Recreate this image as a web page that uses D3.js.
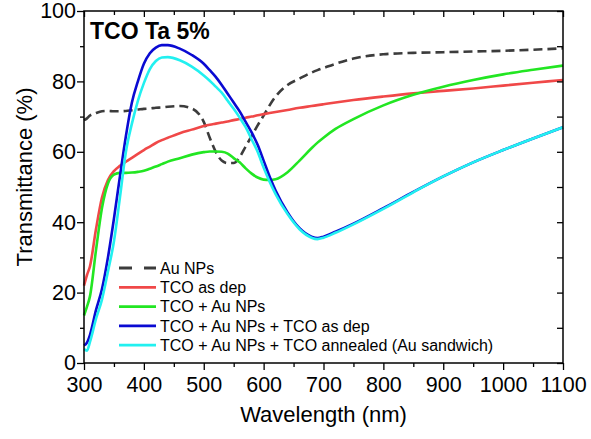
<!DOCTYPE html>
<html><head><meta charset="utf-8">
<script src="https://cdn.jsdelivr.net/npm/d3@7"></script>
<style>body{margin:0;background:#fff}svg{display:block;font-family:Arial,"Liberation Sans",sans-serif}</style>
</head><body><svg id="c" width="591" height="439"></svg>
<script>
const wavelengths = [300,305,310,320,330,340,350,360,370,380,390,400,410,420,430,440,460,480,500,510,520,530,540,550,560,570,580,590,600,610,620,640,660,680,690,700,720,750,800,850,900,950,1000,1050,1100];
const auNPs      = [69,69.5,70.3,71,71.5,71.6,71.5,71.5,71.6,71.8,72,72.2,72.3,72.5,72.6,72.8,73,72.3,68.5,64,60,57.5,56.8,56.8,58.5,61.5,64.5,67.5,70.3,73.2,75.7,79,80.8,82.5,83.2,83.8,85,86.5,87.7,88.1,88.3,88.5,88.7,89,89.4];
const tcoAsDep   = [22,25,27.5,38,47,52,54.5,56,57.2,58.3,59.4,60.5,61.5,62.5,63.3,64,65.3,66.3,67.3,67.7,68,68.3,68.6,69,69.3,69.7,70,70.4,70.7,71,71.3,71.9,72.5,73,73.25,73.5,74,74.7,75.7,76.6,77.3,78,78.8,79.6,80.4];
const tcoAuNPs   = [13.5,16,19,32,44,51,53.5,54,54,54.1,54.3,54.6,55.2,55.8,56.5,57.2,58.2,59.2,59.9,60.1,60.1,60,59.5,58.2,57,55.3,53.8,52.7,52.1,52,52.2,54.2,57.5,61,62.6,64,66.5,69.3,73.2,76.2,78.5,80.4,82,83.3,84.5];
const sandwichAsDep = [5,5.8,8,15,21,30,41,53,64.5,74,80,85,88,89.6,90.3,90.3,89.3,87.5,85,83.2,81.3,79,76.5,74,71.5,68.5,65.5,62,57.5,53,49,42.8,38.3,35.9,35.5,35.9,37.3,39.6,44,48.6,53,57,60.5,63.8,67];
const sandwichAnnealed = [4,3.5,6,12.5,18,26,34.5,47,60,68,74.5,79.5,83.5,85.8,86.8,86.9,86,84.2,81.7,80.2,78.5,76.8,74.5,72.2,69.7,67,63.5,60,55.5,51.5,48,42.3,38,35.6,35.2,35.6,37,39.4,43.8,48.5,53,57,60.5,63.8,67];
const seriesNames = ["Au NPs","TCO as dep","TCO + Au NPs","TCO + Au NPs + TCO as dep","TCO + Au NPs + TCO annealed (Au sandwich)"];
const seriesColors = ["#3c3c3c","#f04848","#22e622","#0a0ad2","#22f0f0"];
const seriesValues = [auNPs,tcoAsDep,tcoAuNPs,sandwichAsDep,sandwichAnnealed];
const xTicks = [300,400,500,600,700,800,900,1000,1100];
const yTicks = [0,20,40,60,80,100];
const title = "TCO Ta 5%";

const svg = d3.select("#c");
const L=84, R=563, T=11, B=363;
const x = d3.scaleLinear().domain([300,1100]).range([L,R]);
const y = d3.scaleLinear().domain([0,100]).range([B,T]);

const line = d3.line().curve(d3.curveMonotoneX);
const g = svg.append("g");
seriesValues.forEach((vals,i)=>{
  g.append("path")
    .attr("d", line(wavelengths.map((w,j)=>[x(w),y(vals[j])])))
    .attr("fill","none").attr("stroke",seriesColors[i])
    .attr("stroke-width", 2.6).attr("stroke-linejoin","round")
    .attr("stroke-dasharray", i===0 ? "9,5" : null);
});

// axes
const fs = 21.5;
svg.append("g").attr("transform",`translate(0,${B})`)
  .call(d3.axisBottom(x).tickValues(xTicks).tickSize(7).tickPadding(7).tickFormat(d3.format("d")));
svg.append("g").attr("transform",`translate(0,${B})`)
  .call(d3.axisBottom(x).tickValues(d3.range(350,1100,100)).tickSize(4).tickFormat(""));
svg.append("g").attr("transform",`translate(${L},0)`)
  .call(d3.axisLeft(y).tickValues(yTicks).tickSize(7).tickPadding(1));
svg.append("g").attr("transform",`translate(${L},0)`)
  .call(d3.axisLeft(y).tickValues(d3.range(10,100,20)).tickSize(4).tickFormat(""));
svg.append("g").attr("transform",`translate(0,${T})`)
  .call(d3.axisBottom(x).tickValues(xTicks).tickSize(6).tickFormat(""));
svg.append("g").attr("transform",`translate(0,${T})`)
  .call(d3.axisBottom(x).tickValues(d3.range(350,1100,100)).tickSize(4).tickFormat(""));
svg.append("g").attr("transform",`translate(${R},0)`)
  .call(d3.axisLeft(y).tickValues(d3.range(0,101,10)).tickSize(6).tickFormat(""));
svg.selectAll(".domain").remove();
svg.selectAll(".tick line").attr("stroke","#000").attr("stroke-width",1.3);
svg.selectAll(".tick text").attr("font-size",fs).attr("fill","#000").attr("font-family","Arial, 'Liberation Sans', sans-serif");
svg.append("rect").attr("x",L).attr("y",T).attr("width",R-L).attr("height",B-T)
  .attr("fill","none").attr("stroke","#000").attr("stroke-width",1.5);

// labels
svg.append("text").attr("x",(L+R)/2).attr("y",422).attr("text-anchor","middle")
  .attr("font-size",22).text("Wavelength (nm)");
svg.append("text").attr("transform",`translate(32,177) rotate(-90)`).attr("text-anchor","middle")
  .attr("font-size",22).text("Transmittance (%)");
svg.append("text").attr("x",90).attr("y",39).attr("font-size",23).attr("font-weight","bold").text(title);

// legend
const ly0 = 268, ldy = 19.3;
seriesNames.forEach((n,i)=>{
  const yy = ly0 + i*ldy;
  svg.append("line").attr("x1",119).attr("x2",156).attr("y1",yy).attr("y2",yy)
    .attr("stroke",seriesColors[i]).attr("stroke-width",2.8)
    .attr("stroke-dasharray", i===0 ? "13,12" : null);
  svg.append("text").attr("x",160).attr("y",yy).attr("dy","0.36em").attr("font-size",16).text(n);
});
</script></body></html>
